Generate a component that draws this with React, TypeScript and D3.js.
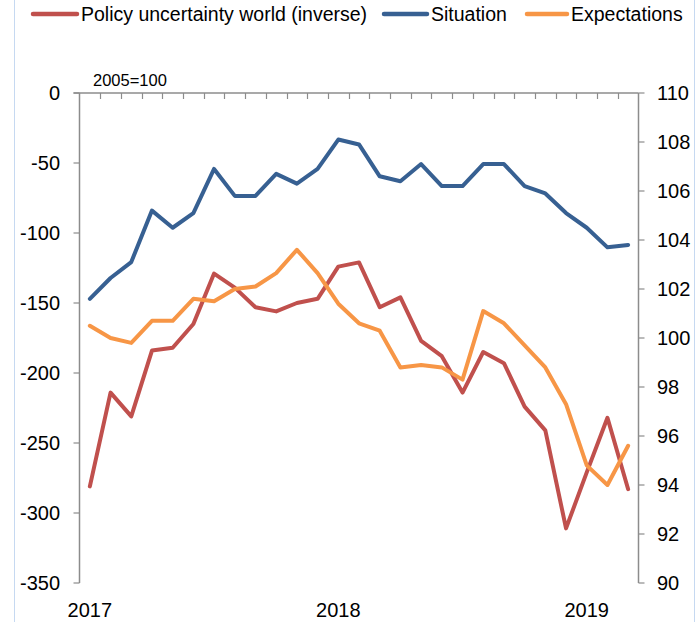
import React, { useEffect, useRef } from 'react';
import * as d3 from 'd3';

// monthly points, Jan 2017 .. Mar 2019
const months: string[] = d3.range(27).map((i) => {
  const y = 2017 + Math.floor(i / 12);
  const m = (i % 12) + 1;
  return `${y}-${String(m).padStart(2, '0')}`;
});

const yearLabels = [
  { month: '2017-01', label: '2017' },
  { month: '2018-01', label: '2018' },
  { month: '2019-01', label: '2019' },
];

// left axis
const policyInverse = [
  -281, -214, -231, -184, -182, -165, -129, -139, -153, -156, -150, -147, -124, -121,
  -153, -146, -177, -188, -214, -185, -193, -224, -241, -311, -271, -232, -283,
];

// right axis
const situation = [
  101.6, 102.45, 103.1, 105.2, 104.5, 105.1, 106.9, 105.8, 105.8, 106.7, 106.3, 106.9, 108.1, 107.9,
  106.6, 106.4, 107.1, 106.2, 106.2, 107.1, 107.1, 106.2, 105.9, 105.1, 104.5, 103.7, 103.8,
];

const expectations = [
  100.5, 100.0, 99.8, 100.7, 100.7, 101.6, 101.5, 102.0, 102.1, 102.65, 103.6, 102.65, 101.4, 100.6,
  100.3, 98.8, 98.9, 98.8, 98.3, 101.1, 100.6, 99.7, 98.8, 97.3, 94.8, 94.0, 95.6,
];

const leftTicks = [0, -50, -100, -150, -200, -250, -300, -350];
const rightTicks = [110, 108, 106, 104, 102, 100, 98, 96, 94, 92, 90];

const seriesNames = ['Policy uncertainty world (inverse)', 'Situation', 'Expectations'];
const colors = ['#c0504d', '#376092', '#f79646'];

const App: React.FC = () => {
  const svgRef = useRef<SVGSVGElement>(null);

  useEffect(() => {
    if (!svgRef.current) return;
    const width = 696;
    const height = 622;
    const left = 79.5;
    const right = 638.5;
    const top = 93;
    const bottom = 583;
    const font = 'Liberation Sans, Arial, sans-serif';
    const axisColor = '#8c8c8c';

    const svg = d3.select(svgRef.current);
    svg.selectAll('*').remove();

    svg.append('rect').attr('width', width).attr('height', height).attr('fill', '#fff');

    // chart frame
    svg.append('line').attr('x1', 14.5).attr('x2', 14.5).attr('y1', 0).attr('y2', height)
      .attr('stroke', '#c6d9f1').attr('stroke-width', 1);
    svg.append('line').attr('x1', 694.5).attr('x2', 694.5).attr('y1', 0).attr('y2', height)
      .attr('stroke', '#c6d9f1').attr('stroke-width', 1);

    const x = d3.scaleBand<string>().domain(months).range([left, right]);
    const yL = d3.scaleLinear().domain([-350, 0]).range([bottom, top]);
    const yR = d3.scaleLinear().domain([90, 110]).range([bottom, top]);
    const cx = (m: string) => (x(m) as number) + x.bandwidth() / 2;

    // category axis at top (value 0)
    const gx = svg.append('g');
    gx.append('line').attr('x1', left - 6).attr('x2', right).attr('y1', top).attr('y2', top)
      .attr('stroke', axisColor).attr('stroke-width', 1.5);
    months.forEach((m, i) => {
      if (i === 0) return;
      const px = Math.round(x(m) as number) + 0.5;
      gx.append('line').attr('x1', px).attr('x2', px).attr('y1', top).attr('y2', top + 6)
        .attr('stroke', axisColor).attr('stroke-width', 1.2);
    });

    yearLabels.forEach((d) => {
      svg.append('text').attr('x', cx(d.month)).attr('y', 617).attr('text-anchor', 'middle')
        .style('font-family', font).style('font-size', '20px').attr('fill', '#000').text(d.label);
    });

    // left axis
    svg.append('line').attr('x1', left).attr('x2', left).attr('y1', top).attr('y2', bottom)
      .attr('stroke', axisColor).attr('stroke-width', 1.5);
    leftTicks.forEach((t) => {
      svg.append('line').attr('x1', left - 6).attr('x2', left).attr('y1', yL(t)).attr('y2', yL(t))
        .attr('stroke', axisColor).attr('stroke-width', 1.2);
      svg.append('text').attr('x', 60).attr('y', yL(t)).attr('dy', '0.36em').attr('text-anchor', 'end')
        .style('font-family', font).style('font-size', '20px').attr('fill', '#000').text(t);
    });

    // right axis
    svg.append('line').attr('x1', right).attr('x2', right).attr('y1', top).attr('y2', bottom)
      .attr('stroke', axisColor).attr('stroke-width', 1.5);
    rightTicks.forEach((t) => {
      svg.append('text').attr('x', 657).attr('y', yR(t)).attr('dy', '0.36em').attr('text-anchor', 'start')
        .style('font-family', font).style('font-size', '20px').attr('fill', '#000').text(t);
      svg.append('line').attr('x1', right).attr('x2', right + 6).attr('y1', yR(t)).attr('y2', yR(t))
        .attr('stroke', axisColor).attr('stroke-width', 1.2);
    });

    svg.append('text').attr('x', 93).attr('y', 86)
      .style('font-family', font).style('font-size', '16.5px').attr('fill', '#000').text('2005=100');

    // lines
    const lineL = d3.line<number>().x((_, i) => cx(months[i])).y((d) => yL(d));
    const lineR = d3.line<number>().x((_, i) => cx(months[i])).y((d) => yR(d));

    [
      { data: policyInverse, gen: lineL, color: colors[0] },
      { data: situation, gen: lineR, color: colors[1] },
      { data: expectations, gen: lineR, color: colors[2] },
    ].forEach((s) => {
      svg.append('path').attr('d', s.gen(s.data) as string).attr('fill', 'none')
        .attr('stroke', s.color).attr('stroke-width', 4).attr('stroke-linejoin', 'round')
        .attr('stroke-linecap', 'round');
    });

    // legend
    const legendPos = [
      { x1: 33, x2: 77, tx: 81 },
      { x1: 384, x2: 427, tx: 431 },
      { x1: 527, x2: 567, tx: 571 },
    ];
    seriesNames.forEach((name, i) => {
      const p = legendPos[i];
      svg.append('line').attr('x1', p.x1).attr('x2', p.x2).attr('y1', 14).attr('y2', 14)
        .attr('stroke', colors[i]).attr('stroke-width', 4.5).attr('stroke-linecap', 'round');
      svg.append('text').attr('x', p.tx).attr('y', 21)
        .style('font-family', font).style('font-size', '19.5px').attr('fill', '#000').text(name);
    });
  }, []);

  return (
    <div style={{ position: 'absolute', left: 0, top: 0 }}>
      <svg ref={svgRef} width={696} height={622} style={{ display: 'block' }}></svg>
    </div>
  );
};

export default App;
